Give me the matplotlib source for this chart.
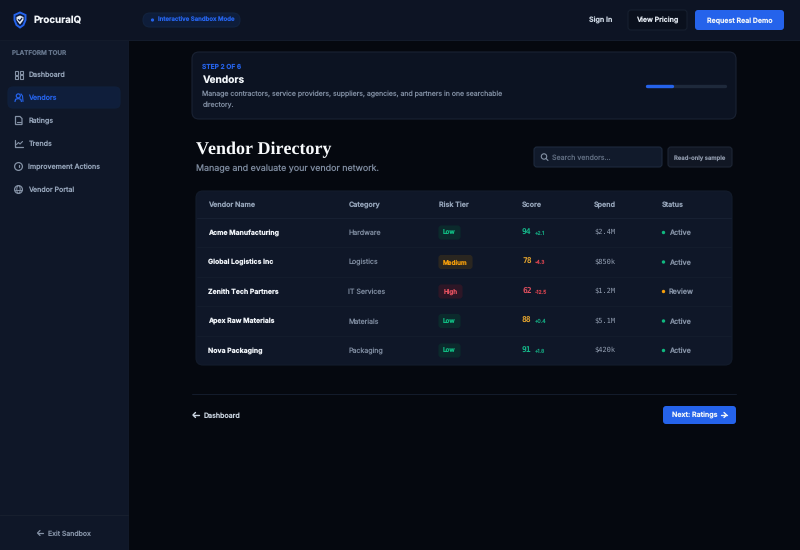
import matplotlib
matplotlib.use("Agg")
import matplotlib.pyplot as plt
from matplotlib.patches import FancyBboxPatch, Circle, Rectangle, Polygon, Ellipse

# table contents
columns = ["Vendor Name", "Category", "Risk Tier", "Score", "Spend", "Status"]
vendors = ["Acme Manufacturing", "Global Logistics Inc", "Zenith Tech Partners", "Apex Raw Materials", "Nova Packaging"]
categories = ["Hardware", "Logistics", "IT Services", "Materials", "Packaging"]
risk_tiers = ["Low", "Medium", "High", "Low", "Low"]
scores = [94, 78, 62, 88, 91]
deltas = ["+2.1", "-4.3", "-12.5", "+0.4", "+1.8"]
spend = ["$2.4M", "$850k", "$1.2M", "$5.1M", "$420k"]
statuses = ["Active", "Active", "Review", "Active", "Active"]
nav_items = ["Dashboard", "Vendors", "Ratings", "Trends", "Improvement Actions", "Vendor Portal"]

plt.rcParams["font.family"] = ["Inter", "DejaVu Sans"]
# small text gets its advances rounded otherwise
plt.rcParams["text.hinting"] = "no_hinting"
plt.rcParams["text.hinting_factor"] = 1

BLUE = "#2563eb"
GREEN = "#10b981"
AMBER = "#f59e0b"
RED = "#ef4444"

fig = plt.figure(figsize=(8, 5.5), dpi=100, facecolor="#05080f")
ax = fig.add_axes([0, 0, 1, 1])
ax.set_xlim(0, 800)
ax.set_ylim(550, 0)
ax.axis("off")


def box(x, y, w, h, r=4, fc="none", ec="none", lw=0.8, z=2):
    p = FancyBboxPatch((x + r, y + r), w - 2 * r, h - 2 * r, boxstyle="round,pad=%g,rounding_size=%g" % (r, r),
                       fc=fc, ec=ec, lw=lw, zorder=z)
    ax.add_patch(p)


def txt(x, y, s, px, color, weight="medium", ha="left", **kw):
    ax.text(x, y, s, fontsize=px * 0.72, color=color, fontweight=weight, ha=ha, va="center_baseline", zorder=5, **kw)


def line(xs, ys, color, lw=0.9, z=4):
    ax.plot(xs, ys, color=color, lw=lw, zorder=z, solid_capstyle="round")


# page panels
ax.add_patch(Rectangle((0, 40), 128, 510, fc="#0f1728", ec="none", zorder=1))
ax.add_patch(Rectangle((0, 0), 800, 40, fc="#0d1424", ec="none", zorder=1))
line([0, 800], [40, 40], "#141c2c", 0.7, 2)
line([128, 128], [40, 550], "#121a2a", 0.7, 2)

# logo
ax.add_patch(Polygon([(20, 12.5), (25.5, 15), (25.5, 20), (23.5, 25), (20, 27.5), (16.5, 25), (14.5, 20), (14.5, 15)],
                     closed=True, fc="#0b1a3a", ec=BLUE, lw=1.4, zorder=4))
ax.add_patch(Polygon([(20, 15.5), (23.5, 17), (23.5, 20), (20, 24.5), (16.5, 20), (16.5, 17)],
                     closed=True, fc="#dfe6f2", ec="none", zorder=5))
line([18.3, 19.7, 21.9], [19.6, 21, 18.2], "#0b1a3a", 0.9, 6)
txt(34, 20, "ProcuraIQ", 9.8, "#f1f5f9", "bold")

# sandbox pill
box(143, 13, 97, 14, r=7, fc="#0e1d3a", ec="#12233f")
ax.add_patch(Circle((152.5, 20), 1.6, fc=BLUE, ec="none", zorder=5))
txt(158, 20, "Interactive Sandbox Mode", 6.05, BLUE, "semibold")

# top buttons
txt(589, 20, "Sign In", 7.1, "#cbd5e1", "semibold")
box(628, 10, 59, 20, r=3, fc="#0a101d", ec="#161f2f")
txt(657.5, 20, "View Pricing", 7.0, "#e2e8f0", "semibold", ha="center")
box(695, 10, 89, 20, r=3, fc=BLUE)
txt(739.5, 20, "Request Real Demo", 7.0, "#f1f5f9", "semibold", ha="center")

# sidebar
txt(12, 52, "PLATFORM TOUR", 6.3, "#64748b", "semibold")
box(8, 87, 112, 21, r=5, fc="#0f1e3b", ec="#10203c")
nav_y = [74.5, 97.5, 120.5, 143.5, 166.5, 189.5]
for name, y in zip(nav_items, nav_y):
    active = name == "Vendors"
    c = BLUE if active else "#94a3b8"
    txt(28.5, y, name, 7.05, c, "medium")
    ic = BLUE if active else "#8491a5"
    if name == "Dashboard":
        for dx, dy, h in [(15, -3.5, 4), (19.5, -3.5, 2.5), (15, 1.5, 2.5), (19.5, 0, 4)]:
            ax.add_patch(Rectangle((dx, y + dy), 3.2, h, fc="none", ec=ic, lw=0.8, zorder=4))
    elif name == "Vendors":
        ax.add_patch(Circle((18.3, y - 1.6), 2, fc="none", ec=ic, lw=0.9, zorder=4))
        line([15, 15.6, 18.2, 20.8, 21.4], [y + 4, y + 1.8, y + 1, y + 1.8, y + 4], ic)
        line([21, 22.5, 23], [y - 3.6, y - 1.5, y + 4], ic, 0.8)
    elif name == "Ratings":
        ax.add_patch(Polygon([(15.5, y - 4), (20, y - 4), (22, y - 2), (22, y + 4), (15.5, y + 4)], closed=True,
                             fc="none", ec=ic, lw=0.9, zorder=4))
        line([17, 20.5], [y + 1.5, y + 1.5], ic, 0.8)
    elif name == "Trends":
        line([15, 15, 22.5], [y - 4, y + 3.5, y + 3.5], ic)
        line([16.5, 18.5, 20, 22.5], [y + 1, y - 1, y + 0.5, y - 2], ic, 0.8)
    elif name == "Improvement Actions":
        ax.add_patch(Circle((18.5, y), 3.9, fc="none", ec=ic, lw=0.9, zorder=4))
        line([18.5, 18.5], [y - 2, y + 0.5], ic, 0.9)
    else:
        ax.add_patch(Circle((18.5, y), 3.9, fc="none", ec=ic, lw=0.9, zorder=4))
        ax.add_patch(Ellipse((18.5, y), 3.4, 7.8, fc="none", ec=ic, lw=0.7, zorder=4))
        line([14.6, 22.4], [y, y], ic, 0.7)

line([0, 128], [515, 515], "#18202f", 0.7)
line([37.5, 43], [533, 533], "#8491a5", 0.9)
line([40, 37.5, 40], [530.5, 533, 535.5], "#8491a5", 0.9)
txt(48, 533, "Exit Sandbox", 6.9, "#8491a5", "medium")

# step card
box(192, 52, 544, 67, r=7, fc="#0c1322", ec="#192233")
txt(202.5, 66.5, "STEP 2 OF 6", 6.6, BLUE, "semibold")
txt(202.5, 79.5, "Vendors", 10.1, "#f1f5f9", "bold")
txt(202.5, 93.5, "Manage contractors, service providers, suppliers, agencies, and partners in one searchable", 6.95, "#7d8a9e", "normal")
txt(202.5, 103.5, "directory.", 6.95, "#7d8a9e", "normal")
ax.plot([646.5, 724.5], [85.5, 85.5], color="#1e293b", lw=2.4, solid_capstyle="round", zorder=4)
ax.plot([646.5, 671.5], [85.5, 85.5], color=BLUE, lw=2.4, solid_capstyle="round", zorder=5)

# heading
ax.text(196, 148, "Vendor Directory", fontsize=12.9, family="Liberation Serif", fontweight="bold", color="#f8fafc",
        va="center_baseline", zorder=5)
txt(196, 168, "Manage and evaluate your vendor network.", 8.9, "#7d8a9e", "normal")

# search and read-only tag
box(534, 147, 128, 20, r=3, fc="#111a2b", ec="#1e2a3d")
ax.add_patch(Circle((544, 156.5), 2.7, fc="none", ec="#8491a5", lw=0.8, zorder=5))
line([546, 548], [158.5, 160.5], "#8491a5", 0.8, 5)
txt(552, 157, "Search vendors...", 7.05, "#5f6c80", "normal")
box(668, 147, 64, 20, r=3, fc="#111724", ec="#1e2635")
txt(700, 157, "Read-only sample", 5.9, "#8a94a6", "semibold", ha="center")

# table
box(196, 191, 536, 174, r=7, fc="#0f1728", ec="#131c2c")
col_x = [208.5, 348.5, 439, 522, 594, 662]
for x, c in zip(col_x, columns):
    txt(x, 204.5, c, 7.1, "#94a3b8", "semibold")
line([197, 731], [218, 218], "#182133", 0.7)
row_y = [232.5, 262, 291.5, 321, 350.5]
for y in row_y[:-1]:
    line([197, 731], [y + 14.7, y + 14.7], "#141d2d", 0.6)

tier_style = {"Low": (GREEN, "#0b2a2c", 21), "Medium": (AMBER, "#2a2620", 33), "High": ("#e2505f", "#2d1626", 23)}
for i, y in enumerate(row_y):
    txt(208.5, y, vendors[i], 6.9, "#eef2f7", "bold")
    txt(348.5, y, categories[i], 7.05, "#7d8a9e", "normal")
    fg, bg, w = tier_style[risk_tiers[i]]
    box(439, y - 6.5, w, 13, r=2.5, fc=bg, ec=bg)
    txt(439 + w / 2, y, risk_tiers[i], 6.3, fg, "semibold", ha="center")
    up = deltas[i].startswith("+")
    sc = "#14b88a" if scores[i] >= 90 else ("#e5a52e" if scores[i] >= 70 else "#e2505f")
    ax.text(522, y, str(scores[i]), fontsize=5.9, family="DejaVu Sans Mono", fontweight="bold", color=sc,
            va="center", zorder=5)
    txt(535, y, deltas[i], 5.2, "#14a07c" if up else "#d8434f", "normal")
    ax.text(594, y, spend[i], fontsize=5.4, family="DejaVu Sans Mono", color="#94a0b3", va="center", zorder=5)
    ax.add_patch(Circle((663.5, y), 1.7, fc=AMBER if statuses[i] == "Review" else GREEN, ec="none", zorder=5))
    txt(669, y, statuses[i], 7.2, "#8491a5", "medium")

# footer nav
line([192, 736], [393.5, 393.5], "#141c2c", 0.7)
line([193, 199], [415, 415], "#cbd5e1", 1)
line([195.5, 193, 195.5], [412.5, 415, 417.5], "#cbd5e1", 1)
txt(204, 415, "Dashboard", 7.05, "#cbd5e1", "medium")
box(663, 406, 73, 18, r=3, fc=BLUE)
txt(671.5, 415, "Next: Ratings", 7.05, "#f1f5f9", "semibold")
line([721, 726.5], [415, 415], "#f1f5f9", 1, 6)
line([724, 726.5, 724], [412.5, 415, 417.5], "#f1f5f9", 1, 6)

fig.savefig("out.png", dpi=100, facecolor=fig.get_facecolor())
